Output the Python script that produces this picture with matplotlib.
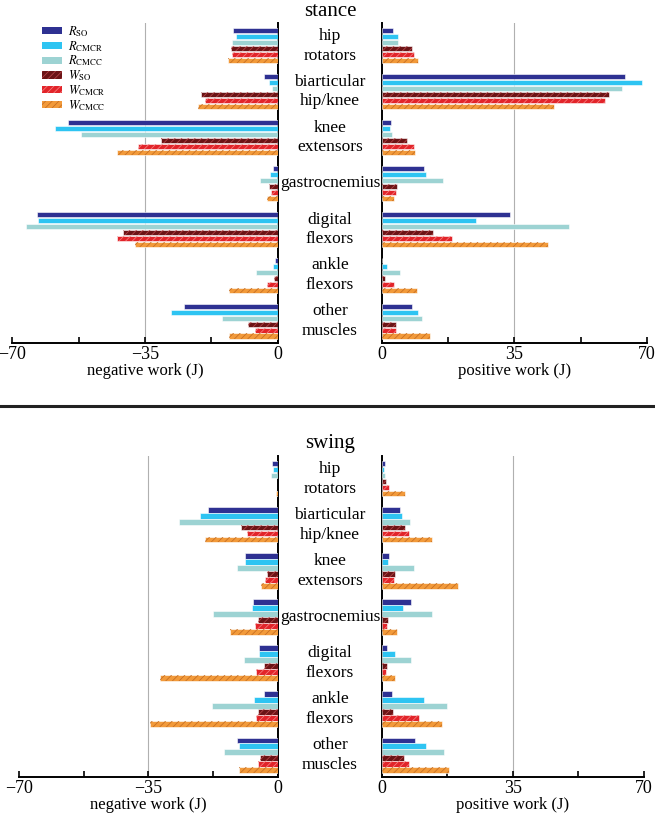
import matplotlib
matplotlib.use("Agg")
import matplotlib.pyplot as plt
import matplotlib.patches as mpatches
import matplotlib.transforms as mtrans
import numpy as np

plt.rcParams['font.family'] = ['Liberation Serif', 'DejaVu Serif']
plt.rcParams['mathtext.fontset'] = 'stix'
plt.rcParams['hatch.linewidth'] = 0.55

# muscle groups, top to bottom
groups = ['hip\nrotators', 'biarticular\nhip/knee', 'knee\nextensors', 'gastrocnemius',
          'digital\nflexors', 'ankle\nflexors', 'other\nmuscles']
series = [r'$R_{\mathrm{SO}}$', r'$R_{\mathrm{CMCR}}$', r'$R_{\mathrm{CMCC}}$',
          r'$W_{\mathrm{SO}}$', r'$W_{\mathrm{CMCR}}$', r'$W_{\mathrm{CMCC}}$']

# work (J), rows follow series order, columns follow groups
stance_neg = [[-11.7, -3.5, -55.2, -1.3, -63.4, -0.8, -24.6],
              [-11.0, -2.4, -58.8, -2.0, -63.1, -1.3, -28.1],
              [-12.0, -1.6, -51.8, -4.7, -66.3, -5.7, -14.7],
              [-12.3, -20.2, -30.9, -2.2, -40.9, -1.0, -7.8],
              [-12.0, -19.2, -36.9, -1.8, -42.3, -2.8, -5.9],
              [-13.1, -21.0, -42.5, -2.7, -37.6, -12.8, -12.9]]
stance_pos = [[3.1, 64.2, 2.5, 11.1, 33.9, 0.1, 8.1],
              [4.2, 68.6, 2.2, 11.8, 24.9, 1.3, 9.7],
              [4.2, 63.5, 2.7, 16.1, 49.5, 4.9, 10.6],
              [8.1, 60.1, 6.7, 4.1, 13.6, 0.8, 3.8],
              [8.4, 58.8, 8.6, 3.7, 18.6, 3.3, 3.9],
              [9.7, 45.4, 8.7, 3.2, 43.8, 9.3, 12.7]]
swing_neg = [[-1.6, -18.9, -8.8, -6.6, -5.0, -3.6, -11.0],
             [-1.3, -21.0, -8.8, -6.9, -5.0, -6.3, -10.6],
             [-1.8, -26.7, -11.0, -17.6, -9.2, -17.9, -14.4],
             [0.0, -10.0, -3.0, -5.2, -3.8, -5.2, -4.9],
             [0.0, -8.4, -3.4, -6.1, -5.8, -6.0, -5.3],
             [-0.4, -19.7, -4.4, -12.9, -31.9, -34.6, -10.5]]
swing_pos = [[0.8, 4.8, 2.0, 7.7, 1.5, 2.8, 8.9],
             [0.7, 5.3, 1.8, 5.6, 3.6, 11.3, 11.8],
             [0.8, 7.6, 8.5, 13.3, 7.7, 17.3, 16.5],
             [1.2, 6.1, 3.5, 1.8, 1.3, 3.1, 5.9],
             [2.0, 7.3, 3.4, 1.3, 1.2, 10.0, 7.2],
             [6.3, 13.4, 20.4, 4.1, 3.5, 16.0, 18.0]]

colors = ['#2e3192', '#2ec4f2', '#9dd3d3', '#6b1416', '#e2242a', '#f29a3a']
hatch_col = [None, None, None, '#b8474a', '#f58080', '#c46c22']

W, H = 655, 814
step = 0.13
bh = 0.115


def px_axes(x0, x1, ytop, ybot):
    return fig.add_axes([x0 / W, 1 - ybot / H, (x1 - x0) / W, (ybot - ytop) / H])


def draw_bars(ax, data):
    idx = np.arange(len(groups))
    for j in range(len(series)):
        y = idx + j * step
        ax.barh(y, data[j], height=bh, color=colors[j], edgecolor='white',
                linewidth=0.4, zorder=3)
        if hatch_col[j]:
            ax.barh(y, data[j], height=bh, facecolor='none', edgecolor=hatch_col[j],
                    linewidth=0, hatch='/////', zorder=4)


def style_axes(ax, side):
    ax.set_ylim(len(groups) - 1 + 5 * step + 0.15, -0.17)
    ax.set_yticks([])
    for s in ['top', 'left', 'right']:
        ax.spines[s].set_visible(False)
    ax.spines['bottom'].set_linewidth(1.4)
    if side == 'neg':
        ax.set_xlim(-70, 0)
        ax.spines['right'].set_visible(True)
        ax.spines['right'].set_linewidth(1.4)
        ax.set_xticks([-70, -35, 0])
        ax.set_xticklabels(['\u221270', '\u221235', '0'])
        ax.set_xticks([-52.5, -17.5], minor=True)
        ax.axvline(-35, color='#b0b0b0', lw=0.8, zorder=1)
        ax.set_xlabel('negative work (J)', fontsize=12, labelpad=0)
    else:
        ax.set_xlim(0, 70)
        ax.spines['left'].set_visible(True)
        ax.spines['left'].set_linewidth(1.4)
        ax.set_xticks([0, 35, 70])
        ax.set_xticks([17.5, 52.5], minor=True)
        ax.axvline(35, color='#b0b0b0', lw=0.8, zorder=1)
        ax.set_xlabel('positive work (J)', fontsize=12, labelpad=0)
    ax.tick_params(axis='x', which='both', direction='in', length=4, width=1.2,
                   labelsize=13, pad=2.5)


fig = plt.figure(figsize=(W / 100, H / 100), dpi=100)

panels = [('stance', stance_neg, stance_pos, (12.3, 277.7, 23, 343), (381.7, 647, 23, 343), 12),
          ('swing', swing_neg, swing_pos, (19, 277.7, 456, 777), (381.7, 644, 456, 777), 444)]

for name, neg, pos, lbox, rbox, ty in panels:
    axl = px_axes(*lbox)
    axr = px_axes(*rbox)
    draw_bars(axl, neg)
    draw_bars(axr, pos)
    style_axes(axl, 'neg')
    style_axes(axr, 'pos')
    fig.text(330 / W, 1 - ty / H, name, ha='center', va='center', fontsize=15)
    tr = mtrans.blended_transform_factory(fig.transFigure, axl.transData)
    for i, g in enumerate(groups):
        fig.text(330 / W, i + 2.5 * step, g, transform=tr, ha='center', va='center',
                 fontsize=12.5, linespacing=1.3)
    if name == 'stance':
        handles = []
        for j in range(len(series)):
            if hatch_col[j]:
                handles.append(mpatches.Patch(facecolor=colors[j], edgecolor=hatch_col[j],
                                              hatch='/////', linewidth=0))
            else:
                handles.append(mpatches.Patch(facecolor=colors[j], linewidth=0))
        fig.legend(handles, series, loc='upper left', bbox_to_anchor=(42 / W, 1 - 24 / H),
                   frameon=False, fontsize=9, handlelength=1.6, handleheight=0.5,
                   labelspacing=0.0, handletextpad=0.45, borderpad=0, borderaxespad=0)

# separator between the two phases
fig.add_artist(plt.Line2D([0, 1], [1 - 406 / H, 1 - 406 / H], color='#222222', lw=2.2,
                          transform=fig.transFigure))

fig.savefig('out.png', dpi=100)
